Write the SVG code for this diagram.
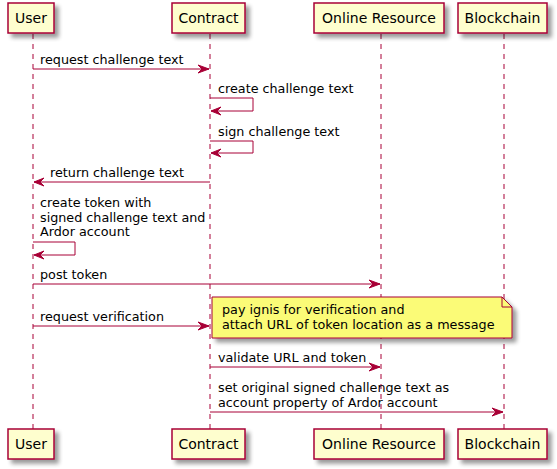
<svg xmlns="http://www.w3.org/2000/svg" width="557" height="469" viewBox="0 0 557 469">
<style>
.box{fill:#FEFECE;stroke:#A80036;stroke-width:1.5;filter:url(#sh)}
.pt{font-family:"DejaVu Sans",sans-serif;font-size:14px;fill:#000;text-anchor:middle}
.mt{font-family:"DejaVu Sans",sans-serif;font-size:12.75px;fill:#000}
.life{stroke:#A80036;stroke-width:1;stroke-dasharray:5,5;fill:none}
.msg{stroke:#A80036;stroke-width:1;fill:none}
.ah{fill:#A80036;stroke:#A80036}
.note{fill:#FBFB77;stroke:#A80036;stroke-width:1;filter:url(#sh)}
</style>
<defs>
<filter id="sh" x="-1" y="-1" width="300%" height="300%">
<feGaussianBlur in="SourceAlpha" stdDeviation="2" result="b"/>
<feOffset in="b" dx="4" dy="4" result="o"/>
<feComponentTransfer in="o" result="o2"><feFuncA type="linear" slope="0.4"/></feComponentTransfer>
<feMerge><feMergeNode in="o2"/><feMergeNode in="SourceGraphic"/></feMerge>
</filter>
</defs>
<rect width="557" height="469" fill="#FFFFFF"/>
<g id="lifelines">
<line class="life" x1="33" y1="34" x2="33" y2="429"/>
<line class="life" x1="210" y1="34" x2="210" y2="429"/>
<line class="life" x1="381" y1="34" x2="381" y2="429"/>
<line class="life" x1="504" y1="34" x2="504" y2="429"/>
</g>
<g id="user">
<rect class="box" x="8" y="3" width="46" height="30"/><text class="pt" x="31" y="23">User</text>
<rect class="box" x="8" y="429" width="46" height="30"/><text class="pt" x="31" y="449">User</text>
</g>
<g id="contract">
<rect class="box" x="172" y="3" width="73" height="30"/><text class="pt" x="208.5" y="23">Contract</text>
<rect class="box" x="172" y="429" width="73" height="30"/><text class="pt" x="208.5" y="449">Contract</text>
</g>
<g id="online">
<rect class="box" x="314" y="3" width="130" height="30"/><text class="pt" x="379" y="23">Online Resource</text>
<rect class="box" x="314" y="429" width="130" height="30"/><text class="pt" x="379" y="449">Online Resource</text>
</g>
<g id="blockchain">
<rect class="box" x="458" y="3" width="89" height="30"/><text class="pt" x="502.5" y="23">Blockchain</text>
<rect class="box" x="458" y="429" width="89" height="30"/><text class="pt" x="502.5" y="449">Blockchain</text>
</g>
<g id="connectors">
<line class="msg" x1="33" y1="69" x2="209" y2="69"/>
<polygon class="ah" points="198,65 209,69 198,73 202,69"/>
<text class="mt" x="40" y="64">request challenge text</text>

<polyline class="msg" points="210,98 253,98 253,111 211,111"/>
<polygon class="ah" points="221,107 211,111 221,115 217,111"/>
<text class="mt" x="218" y="93">create challenge text</text>

<polyline class="msg" points="210,141 253,141 253,153 211,153"/>
<polygon class="ah" points="221,149 211,153 221,157 217,153"/>
<text class="mt" x="218" y="136">sign challenge text</text>

<line class="msg" x1="34" y1="182" x2="210" y2="182"/>
<polygon class="ah" points="44,178 34,182 44,186 40,182"/>
<text class="mt" x="50" y="177">return challenge text</text>

<polyline class="msg" points="33,242 75,242 75,255 34,255"/>
<polygon class="ah" points="44,251 34,255 44,259 40,255"/>
<text class="mt" x="40" y="207">create token with</text>
<text class="mt" x="40" y="222">signed challenge text and</text>
<text class="mt" x="40" y="236">Ardor account</text>

<line class="msg" x1="33" y1="284" x2="380" y2="284"/>
<polygon class="ah" points="369,280 380,284 369,288 373,284"/>
<text class="mt" x="40" y="279">post token</text>

<line class="msg" x1="33" y1="326" x2="209" y2="326"/>
<polygon class="ah" points="198,322 209,326 198,330 202,326"/>
<text class="mt" x="40" y="321">request verification</text>

<line class="msg" x1="210" y1="367" x2="380" y2="367"/>
<polygon class="ah" points="369,363 380,367 369,371 373,367"/>
<text class="mt" x="218" y="362">validate URL and token</text>

<line class="msg" x1="210" y1="412" x2="503" y2="412"/>
<polygon class="ah" points="492,408 503,412 492,416 496,412"/>
<text class="mt" x="218" y="392">set original signed challenge text as</text>
<text class="mt" x="218" y="407">account property of Ardor account</text>
</g>
<g id="note">
<path class="note" d="M212,297 L502,297 L512,307 L512,338 L212,338 Z"/>
<path d="M502,297 L502,307 L512,307" fill="none" stroke="#A80036" stroke-width="1"/>
<text class="mt" x="222" y="314">pay ignis for verification and</text>
<text class="mt" x="222" y="329">attach URL of token location as a message</text>
</g>
</svg>
